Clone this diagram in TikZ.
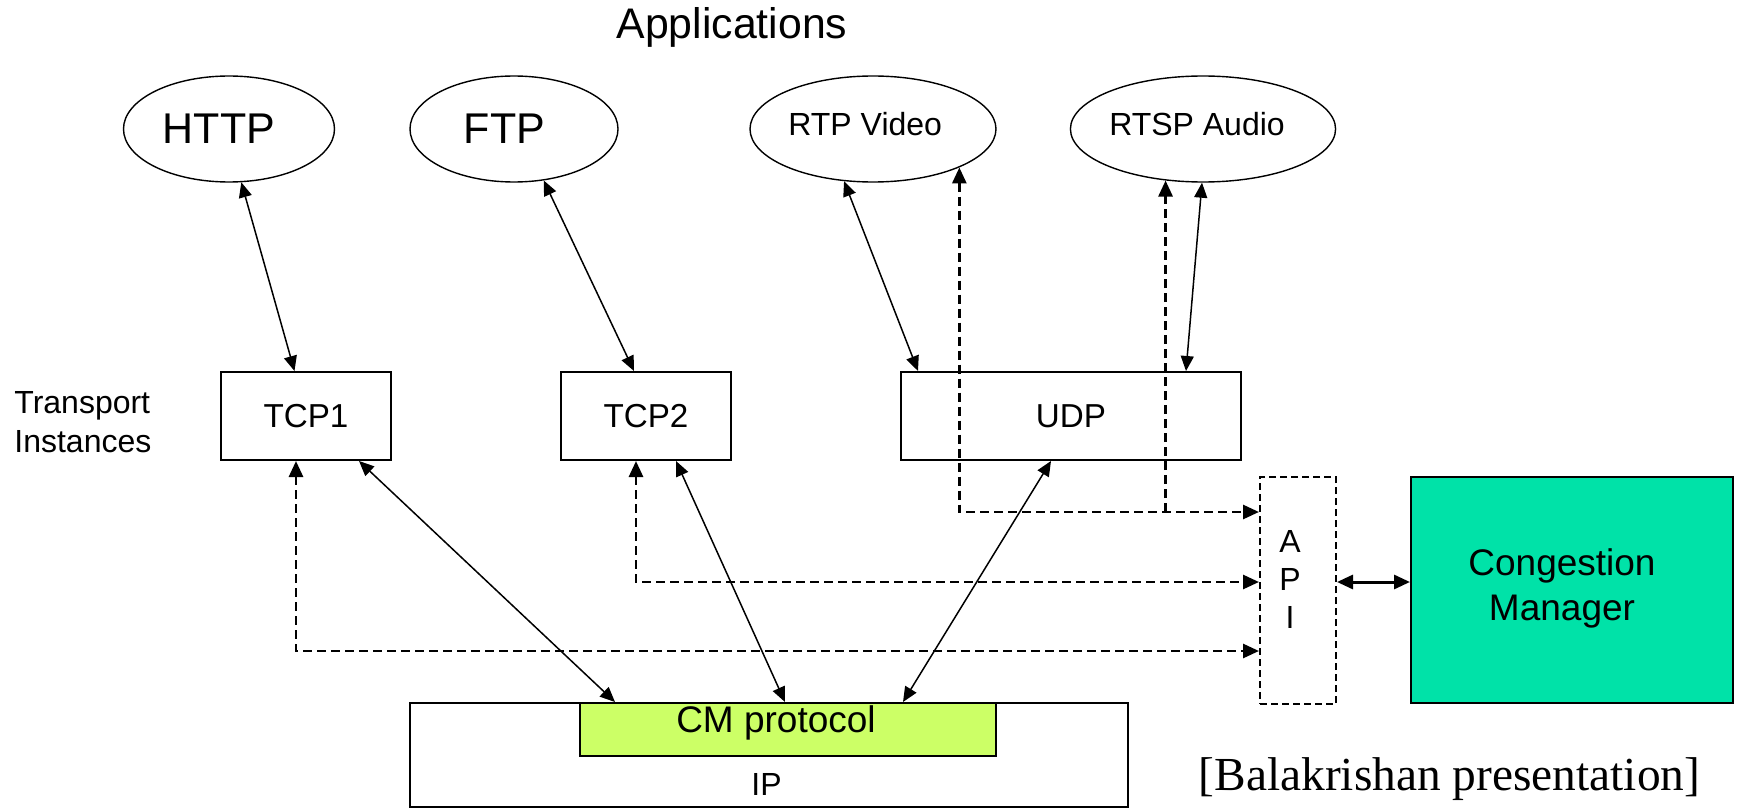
\documentclass[tikz,border=0pt]{standalone}
\usepackage{fontspec}
\setmainfont{Liberation Sans}
\newfontfamily\attrfont{Liberation Serif}
\usetikzlibrary{shapes.geometric,arrows.meta,calc}

\definecolor{cmlime}{RGB}{204,255,102}
\definecolor{cmgreen}{RGB}{0,226,168}

\tikzset{
  app/.style={ellipse, draw, line width=0.7pt, inner sep=0pt, minimum height=53pt,
    font=\fontsize{16}{19}\selectfont},
  tbox/.style={rectangle, draw, line width=1pt, inner sep=0pt,
    minimum width=85pt, minimum height=44pt, font=\fontsize{16.6}{19}\selectfont},
  txt/.style={inner sep=0pt},
  link/.style={line width=0.75pt, {Triangle[length=7.5pt,width=6.5pt]}-{Triangle[length=7.5pt,width=6.5pt]}},
  ctrlline/.style={line width=1.4pt, dash pattern=on 4.5pt off 2.5pt},
  ctrlboth/.style={ctrlline, {Triangle[length=8pt,width=7pt]}-{Triangle[length=8pt,width=7pt]}},
  ctrlup/.style={ctrlline, -{Triangle[length=8pt,width=7pt]}},
}

\begin{document}
\begin{tikzpicture}[x=0.5pt, y=-0.5pt]
\useasboundingbox (0,0) rectangle (1737,808);

% heading
\node[txt, anchor=base, font=\fontsize{21.4}{25}\selectfont] (apps) at (732,39) {Applications};

% applications (labels sit a little left of the ellipse centres)
\node[app, minimum width=105.5pt, font=\fontsize{21.5}{25}\selectfont] (http) at (229,129) {HTTP\kern10pt};
\node[app, minimum width=104pt, font=\fontsize{21.5}{25}\selectfont] (ftp) at (514,129) {FTP\kern9.4pt};
\node[app, minimum width=123pt] (rtp) at (873,129) {\raisebox{5pt}{RTP Video}\kern7.8pt};
\node[app, minimum width=132pt] (rtsp) at (1203,129) {\raisebox{5pt}{RTSP Audio}\kern6pt};

% transport instances
\node[txt, anchor=base west, align=left, font=\fontsize{16}{19.5}\selectfont] (transport) at (14,452) {Transport\\Instances};
\node[tbox] (tcp1) at (306,416) {TCP1};
\node[tbox] (tcp2) at (646,416) {TCP2};
\node[tbox, minimum width=170pt] (udp) at (1071,416) {UDP};

% network layer
\node[draw, line width=1pt, inner sep=0pt, minimum width=359pt, minimum height=52pt] (ip) at (769,755) {};
\node[txt, anchor=base, font=\fontsize{16}{19}\selectfont] (iptext) at (766.5,795) {IP};
\node[draw, line width=1pt, fill=cmlime, inner sep=0pt, minimum width=208pt, minimum height=26.5pt] (cm) at (788,729.5) {};
\node[txt, anchor=base, font=\fontsize{18.5}{22}\selectfont] (cmtext) at (776,732) {CM protocol};

% API and congestion manager
\node[draw, line width=1pt, dash pattern=on 3.5pt off 2pt, inner sep=0pt, minimum width=38pt, minimum height=113.5pt] (api) at (1298,590.5) {};
\node[txt, align=center, font=\fontsize{16}{19}\selectfont] (apitext) at (1290,579) {A\\P\\I};
\node[draw, line width=1pt, fill=cmgreen, inner sep=0pt, minimum width=161pt, minimum height=113pt] (mgr) at (1572,590) {};
\node[txt, align=center, font=\fontsize{18.5}{22.5}\selectfont] (mgrtext) at (1562,588) {Congestion\\Manager};

% attribution
\node[txt, anchor=base, font=\attrfont\fontsize{23.7}{28}\selectfont] (src) at (1449.5,790) {[Balakrishan presentation]};

% data paths
\draw[link] (http.-77.2) -- ($(tcp1.north)+(-11.5,0)$);
\draw[link] (ftp.-60.8) -- ($(tcp2.north)+(-12,0)$);
\draw[link] (rtp.-119.4) -- ($(udp.north west)+(18,0)$);
\draw[link] ($(rtsp.south)+(-1,0)$) -- ($(udp.north east)+(-56,0)$);
\draw[link] ($(tcp1.south)+(53,0)$) -- ($(cm.north west)+(36,0)$);
\draw[link] ($(tcp2.south)+(30,0)$) -- ($(cm.north)+(-3,0)$);
\draw[link] ($(udp.south)+(-20,0)$) -- ($(cm.north east)+(-94,0)$);

% control paths to the API
\coordinate (a1) at ($(api.west)+(0,-78.5)$);
\coordinate (a2) at ($(api.west)+(0,-8.5)$);
\coordinate (a3) at ($(api.west)+(0,60.5)$);
\coordinate (j2) at (rtsp.-126.8 |- a1);
\draw[ctrlboth] (rtp.-24.5) |- (a1);
\draw[ctrlup] (j2) -- (rtsp.-126.8);
\draw[ctrlboth] ($(tcp2.south)+(-10,0)$) |- (a2);
\draw[ctrlboth] ($(tcp1.south)+(-10,0)$) |- (a3);

% API to congestion manager
\draw[line width=1.5pt, {Triangle[length=8pt,width=7pt]}-{Triangle[length=8pt,width=7pt]}] (a2 -| api.east) -- (a2 -| mgr.west);
\end{tikzpicture}
\end{document}
